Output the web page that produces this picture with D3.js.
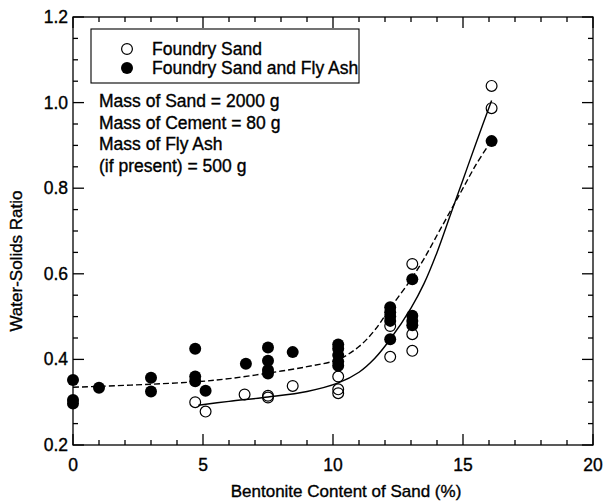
<!DOCTYPE html>
<html>
<head>
<meta charset="utf-8">
<script src="https://cdn.jsdelivr.net/npm/d3@7"></script>
<style>
  html, body { margin: 0; padding: 0; background: #fff; }
  svg { display: block; font-family: "Liberation Sans", Arial, Helvetica, sans-serif; }
  svg text { fill: #000; stroke: #000; stroke-width: 0.35px; }
</style>
</head>
<body>
<svg id="chart" width="605" height="504"></svg>
<script>
// Foundry sand alone (open circles)
const sandX = [4.7, 5.1, 6.6, 7.5, 7.5, 8.45, 10.2, 10.2, 10.2, 12.2, 12.2, 13.05, 13.05, 13.05, 16.1, 16.1];
const sandY = [0.300, 0.278, 0.318, 0.315, 0.311, 0.338, 0.360, 0.330, 0.321, 0.478, 0.406, 0.623, 0.459, 0.420, 1.039, 0.987];

// Foundry sand with fly ash (filled circles)
const ashX = [0, 0, 0, 1, 3, 3, 4.7, 4.7, 4.7, 5.1, 6.65, 7.5, 7.5, 7.5, 7.5, 8.45,
              10.2, 10.2, 10.2, 10.2, 10.2, 12.2, 12.2, 12.2, 12.2, 12.2, 13.05, 13.05, 13.05, 13.05, 16.1];
const ashY = [0.352, 0.305, 0.297, 0.334, 0.357, 0.325, 0.425, 0.360, 0.349, 0.327, 0.390, 0.428, 0.397, 0.375, 0.367, 0.417,
              0.435, 0.425, 0.410, 0.395, 0.385, 0.522, 0.510, 0.500, 0.490, 0.447, 0.587, 0.502, 0.490, 0.480, 0.910];

// Trend curves drawn through the data
const sandFitX = [4.82, 6, 7.5, 9, 10.2, 11, 11.6, 12.2, 13.0, 13.5, 14.0, 14.5, 15.0, 15.5, 16.1];
const sandFitY = [0.293, 0.302, 0.312, 0.325, 0.345, 0.370, 0.402, 0.447, 0.520, 0.577, 0.650, 0.735, 0.820, 0.905, 1.005];
const ashFitX = [0, 1, 3, 4.8, 6, 7.5, 9, 10.2, 11, 11.6, 12.2, 13.0, 13.5, 14.0, 14.5, 15.0, 15.5, 16.08];
const ashFitY = [0.335, 0.337, 0.342, 0.348, 0.355, 0.368, 0.383, 0.400, 0.430, 0.468, 0.520, 0.587, 0.635, 0.690, 0.745, 0.800, 0.855, 0.910];

const xTicks = [0, 5, 10, 15, 20];
const yTicks = [0.2, 0.4, 0.6, 0.8, 1.0, 1.2];
const legendLabels = ["Foundry Sand", "Foundry Sand and Fly Ash"];
const noteLines = ["Mass of Sand = 2000 g", "Mass of Cement = 80 g", "Mass of Fly Ash", "(if present) = 500 g"];
const xTitle = "Bentonite Content of Sand (%)";
const yTitle = "Water-Solids Ratio";

const svg = d3.select("#chart");
const plotL = 73, plotR = 593, plotT = 17, plotB = 445;

const x = d3.scaleLinear().domain([0, 20]).range([plotL, plotR]);
const y = d3.scaleLinear().domain([0.2, 1.2]).range([plotB, plotT]);

const fontSize = 17.5;
const majorLen = 11, minorLen = 5;

// frame
svg.append("rect")
  .attr("x", plotL).attr("y", plotT)
  .attr("width", plotR - plotL).attr("height", plotB - plotT)
  .attr("fill", "none").attr("stroke", "#000").attr("stroke-width", 1.3);

// inward ticks on all four sides
const xMinor = d3.range(0, 20.001, 1);
const yMinor = d3.range(0.2, 1.2001, 0.05);
const isMajorX = v => Math.abs(v / 5 - Math.round(v / 5)) < 1e-6;
const isMajorY = v => Math.abs(v / 0.2 - Math.round(v / 0.2)) < 1e-6;

const ticks = svg.append("g").attr("stroke", "#000").attr("stroke-width", 1.3);
xMinor.forEach(v => {
  const len = isMajorX(v) ? majorLen : minorLen;
  ticks.append("line").attr("x1", x(v)).attr("x2", x(v)).attr("y1", plotB).attr("y2", plotB - len);
  ticks.append("line").attr("x1", x(v)).attr("x2", x(v)).attr("y1", plotT).attr("y2", plotT + len);
});
yMinor.forEach(v => {
  const len = isMajorY(v) ? majorLen : minorLen;
  ticks.append("line").attr("y1", y(v)).attr("y2", y(v)).attr("x1", plotL).attr("x2", plotL + len);
  ticks.append("line").attr("y1", y(v)).attr("y2", y(v)).attr("x1", plotR).attr("x2", plotR - len);
});

// tick labels
svg.append("g").selectAll("text").data(xTicks).join("text")
  .attr("x", d => x(d)).attr("y", plotB + 26)
  .attr("text-anchor", "middle").attr("font-size", fontSize)
  .text(d => d3.format("d")(d));
svg.append("g").selectAll("text").data(yTicks).join("text")
  .attr("x", plotL - 5).attr("y", d => y(d) + 6)
  .attr("text-anchor", "end").attr("font-size", fontSize)
  .text(d => d3.format(".1f")(d));

// axis titles
svg.append("text")
  .attr("x", (plotL + plotR) / 2 + 13).attr("y", 497)
  .attr("text-anchor", "middle").attr("font-size", fontSize - 0.5)
  .text(xTitle);
svg.append("text")
  .attr("transform", `translate(22, ${(plotT + plotB) / 2 + 30}) rotate(-90)`)
  .attr("text-anchor", "middle").attr("font-size", fontSize - 0.5)
  .text(yTitle);

// trend curves
const line = d3.line().x(d => x(d[0])).y(d => y(d[1])).curve(d3.curveCatmullRom.alpha(0.5));
svg.append("path")
  .datum(sandFitX.map((v, i) => [v, sandFitY[i]]))
  .attr("d", line).attr("fill", "none").attr("stroke", "#000").attr("stroke-width", 1.4);
svg.append("path")
  .datum(ashFitX.map((v, i) => [v, ashFitY[i]]))
  .attr("d", line).attr("fill", "none").attr("stroke", "#000").attr("stroke-width", 1.4)
  .attr("stroke-dasharray", "6,3");

// points
const r = 6;
svg.append("g").selectAll("circle").data(sandX.map((v, i) => [v, sandY[i]])).join("circle")
  .attr("cx", d => x(d[0])).attr("cy", d => y(d[1])).attr("r", r - 0.6)
  .attr("fill", "none").attr("stroke", "#000").attr("stroke-width", 1.2);
svg.append("g").selectAll("circle").data(ashX.map((v, i) => [v, ashY[i]])).join("circle")
  .attr("cx", d => x(d[0])).attr("cy", d => y(d[1])).attr("r", r)
  .attr("fill", "#000");

// legend
const lg = svg.append("g");
lg.append("rect").attr("x", 91).attr("y", 29).attr("width", 268).attr("height", 54)
  .attr("fill", "#fff").attr("stroke", "#000").attr("stroke-width", 1.1);
legendLabels.forEach((t, i) => {
  const cy = 49 + i * 19;
  const c = lg.append("circle").attr("cx", 127).attr("cy", cy).attr("r", i === 0 ? r - 0.6 : r);
  if (i === 0) c.attr("fill", "none").attr("stroke", "#000").attr("stroke-width", 1.2);
  else c.attr("fill", "#000");
  lg.append("text").attr("x", 152).attr("y", cy + 6).attr("font-size", fontSize).text(t);
});

// test conditions note
svg.append("g").selectAll("text").data(noteLines).join("text")
  .attr("x", 99).attr("y", (d, i) => 107 + i * 21.7)
  .attr("font-size", fontSize).text(d => d);
</script>
</body>
</html>
